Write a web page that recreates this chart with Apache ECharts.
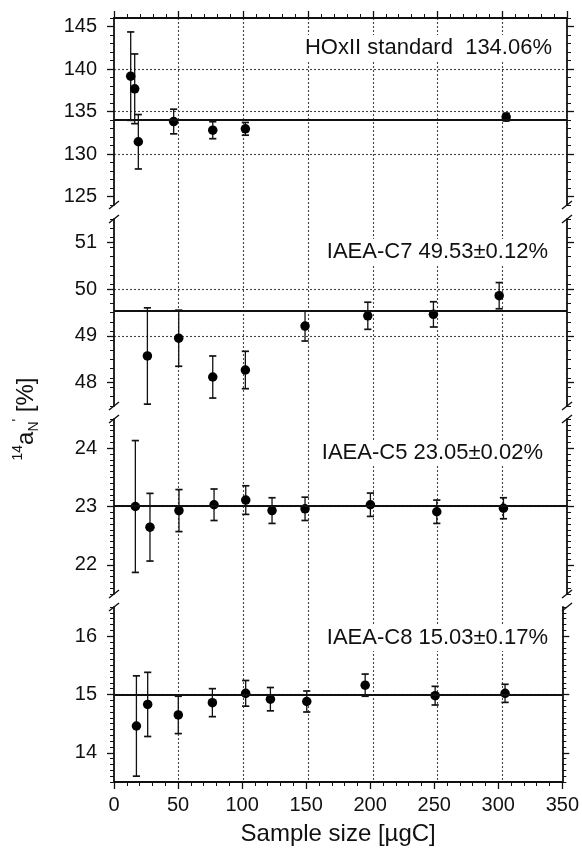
<!DOCTYPE html>
<html><head><meta charset="utf-8">
<script src="https://cdn.jsdelivr.net/npm/echarts@6/dist/echarts.min.js"></script>
<style>html,body{margin:0;padding:0;background:#fff}#c{width:582px;height:848px}</style>
</head><body><div id="c"></div>
<script>
// ---------- data ----------
const xTickValues = [0, 50, 100, 150, 200, 250, 300, 350];

const hoxX   = [12.9, 16.0, 18.8, 46.1, 76.3, 101.5, 303.0];
const hoxY   = [139.16, 137.67, 131.44, 133.82, 132.80, 132.96, 134.34];
const hoxErr = [5.2, 4.1, 3.2, 1.45, 1.0, 0.75, 0.45];
const hoxRef = 134.06;
const hoxTicks = [125, 130, 135, 140, 145];
const hoxLabel = 'HOxII standard  134.06%';

const c7X   = [25.8, 50.0, 76.3, 101.5, 147.6, 196.1, 246.8, 297.6];
const c7Y   = [48.57, 48.95, 48.12, 48.27, 49.21, 49.43, 49.46, 49.86];
const c7Err = [1.03, 0.60, 0.45, 0.40, 0.32, 0.29, 0.27, 0.28];
const c7Ref = 49.53;
const c7Ticks = [48, 49, 50, 51];
const c7Label = 'IAEA-C7 49.53\u00B10.12%';

const c5X   = [16.5, 27.8, 50.2, 77.3, 101.8, 122.1, 147.6, 198.1, 249.4, 300.9];
const c5Y   = [23.00, 22.645, 22.93, 23.03, 23.11, 22.93, 22.96, 23.03, 22.91, 22.97];
const c5Err = [1.13, 0.58, 0.36, 0.27, 0.245, 0.22, 0.20, 0.20, 0.20, 0.18];
const c5Ref = 23.01;
const c5Ticks = [22, 23, 24];
const c5Label = 'IAEA-C5 23.05\u00B10.02%';

const c8X   = [17.5, 26.3, 50.2, 76.8, 102.8, 122.1, 150.5, 196.1, 250.7, 305.3];
const c8Y   = [14.46, 14.83, 14.65, 14.86, 15.02, 14.92, 14.88, 15.16, 14.98, 15.02];
const c8Err = [0.86, 0.55, 0.32, 0.24, 0.22, 0.20, 0.18, 0.19, 0.16, 0.155];
const c8Ref = 15.0;
const c8Ticks = [14, 15, 16];
const c8Label = 'IAEA-C8 15.03\u00B10.17%';

const xName = 'Sample size [\u00B5gC]';

// ---------- layout ----------
const FONT = '"Liberation Sans", Arial, Helvetica, sans-serif';
const LEFT = 114, RIGHT = 15, W = 582 - LEFT - RIGHT;
const panels = [
  {top: 18,  h: 187, min: 124,  max: 146,  minor: 1,   ticks: hoxTicks, xs: hoxX, ys: hoxY, es: hoxErr, ref: hoxRef, label: hoxLabel, ly: 48,  lx: 555},
  {top: 219, h: 187, min: 47.5, max: 51.5, minor: 0.2, ticks: c7Ticks,  xs: c7X,  ys: c7Y,  es: c7Err,  ref: c7Ref,  label: c7Label,  ly: 252, lx: 551},
  {top: 419, h: 175, min: 21.5, max: 24.5, minor: 0.1, ticks: c5Ticks,  xs: c5X,  ys: c5Y,  es: c5Err,  ref: c5Ref,  label: c5Label,  ly: 453, lx: 546},
  {top: 607, h: 175, min: 13.5, max: 16.5, minor: 0.1, ticks: c8Ticks,  xs: c8X,  ys: c8Y,  es: c8Err,  ref: c8Ref,  label: c8Label,  ly: 638, lx: 551}
];

const BLACK = '#111';
const GRIDC = '#444';
const grids = [], xAxes = [], yAxes = [], series = [], graphics = [];

panels.forEach((p, gi) => {
  grids.push({left: LEFT, width: W, top: p.top, height: p.h, containLabel: false});
  const isTop = gi === 0, isBottom = gi === panels.length - 1;
  const showX = isTop || isBottom;
  xAxes.push({
    gridIndex: gi, type: 'value', min: 0, max: 350, interval: 50,
    position: isTop ? 'top' : 'bottom', show: showX,
    axisLine: {show: true, onZero: false, lineStyle: {color: BLACK, width: 1.8}},
    axisTick: {show: true, length: 7, lineStyle: {color: BLACK, width: 1.3}},
    minorTick: {show: true, splitNumber: 5, length: 4, lineStyle: {color: BLACK, width: 1}},
    axisLabel: {show: isBottom, fontSize: 20, color: BLACK, fontFamily: FONT, margin: 13},
    splitLine: {show: false},
    name: isBottom ? xName : '', nameLocation: 'middle', nameGap: 40,
    nameTextStyle: {fontSize: 24, color: BLACK, fontFamily: FONT}
  });
  const minors = [];
  const n = Math.round((p.max - p.min) / p.minor);
  for (let k = 0; k <= n; k++) minors.push(+(p.min + k * p.minor).toFixed(4));
  const base = {gridIndex: gi, type: 'value', min: p.min, max: p.max};
  const mainIdx = yAxes.length;
  yAxes.push(Object.assign({}, base, {
    position: 'left',
    axisLine: {show: true, onZero: false, lineStyle: {color: BLACK, width: 1.8}},
    axisTick: {show: true, length: 7, customValues: p.ticks, lineStyle: {color: BLACK, width: 1.3}},
    axisLabel: {show: true, customValues: p.ticks, fontSize: 20, color: BLACK, fontFamily: FONT, margin: 17},
    splitLine: {show: true, showMinLine: false, showMaxLine: false, lineStyle: {color: GRIDC, type: [2, 2], width: 1.1}}
  }));
  yAxes.push(Object.assign({}, base, {
    position: 'left', axisLine: {show: false},
    axisTick: {show: true, length: 4, customValues: minors, lineStyle: {color: BLACK, width: 1}},
    axisLabel: {show: false}, splitLine: {show: false}
  }));
  yAxes.push(Object.assign({}, base, {
    position: 'right',
    axisLine: {show: true, onZero: false, lineStyle: {color: BLACK, width: 1.8}},
    axisTick: {show: true, length: 7, customValues: p.ticks, lineStyle: {color: BLACK, width: 1.3}},
    axisLabel: {show: false}, splitLine: {show: false}
  }));
  yAxes.push(Object.assign({}, base, {
    position: 'right', axisLine: {show: false},
    axisTick: {show: true, length: 4, customValues: minors, lineStyle: {color: BLACK, width: 1}},
    axisLabel: {show: false}, splitLine: {show: false}
  }));

  const errData = p.xs.map((x, i) => [x, p.ys[i], p.es[i]]);
  series.push({
    type: 'custom', xAxisIndex: gi, yAxisIndex: mainIdx, z: 3, silent: true,
    encode: {x: 0, y: 1},
    data: errData,
    renderItem: function (params, api) {
      const x = api.value(0), y = api.value(1), e = api.value(2);
      const t = api.coord([x, y + e]), b = api.coord([x, y - e]);
      const w = 3.6;
      const st = {stroke: BLACK, lineWidth: 1.3};
      const cap = {stroke: BLACK, lineWidth: 1.7};
      return {type: 'group', children: [
        {type: 'line', shape: {x1: t[0], y1: t[1], x2: b[0], y2: b[1]}, style: st},
        {type: 'line', shape: {x1: t[0] - w, y1: t[1], x2: t[0] + w, y2: t[1]}, style: cap},
        {type: 'line', shape: {x1: b[0] - w, y1: b[1], x2: b[0] + w, y2: b[1]}, style: cap}
      ]};
    }
  });
  series.push({
    type: 'scatter', xAxisIndex: gi, yAxisIndex: mainIdx, z: 4,
    symbol: 'circle', symbolSize: 9.5,
    itemStyle: {color: '#000', borderWidth: 0, opacity: 1},
    data: p.xs.map((x, i) => [x, p.ys[i]]),
    markLine: {
      silent: true, symbol: 'none', label: {show: false}, animation: false,
      lineStyle: {color: BLACK, width: 2, type: 'solid'},
      data: [{yAxis: p.ref}]
    }
  });
  graphics.push({
    type: 'text', x: p.lx, y: p.ly, z: 50,
    style: {text: p.label, fontSize: 22, fontFamily: FONT, fill: BLACK,
      align: 'right', verticalAlign: 'middle', backgroundColor: '#fff', padding: [2, 3, 2, 3]}
  });
});

// full-height grid carrying the vertical dotted grid lines through the breaks
const gi4 = grids.length;
grids.push({left: LEFT, width: W, top: 18, height: 764});
xAxes.push({gridIndex: gi4, type: 'value', min: 0, max: 350, interval: 50, position: 'bottom',
  axisLine: {show: false}, axisTick: {show: false}, axisLabel: {show: false},
  splitLine: {show: true, showMinLine: false, showMaxLine: false, lineStyle: {color: GRIDC, type: [2, 2], width: 1.1}}});
yAxes.push({gridIndex: gi4, type: 'value', min: 0, max: 1, show: false});

// axis break marks
function brk(x, y) {
  return {type: 'line', z: 60, shape: {x1: x - 5, y1: y + 4, x2: x + 5, y2: y - 4},
    style: {stroke: BLACK, lineWidth: 1.5}};
}
for (let i = 0; i < panels.length - 1; i++) {
  const yb = panels[i].top + panels[i].h, yt = panels[i + 1].top;
  [LEFT, LEFT + W].forEach(x => { graphics.push(brk(x, yb)); graphics.push(brk(x, yt)); });
}

// y axis title
graphics.push({
  type: 'text', x: 26, y: 419, rotation: Math.PI / 2, z: 50,
  style: {
    text: '{sup|14}{m|a}{sub|N}{sup|\'}{m| [%]}',
    align: 'center', verticalAlign: 'middle', fill: BLACK, fontFamily: FONT,
    rich: {
      m: {fontSize: 24, lineHeight: 30, verticalAlign: 'middle', fontFamily: FONT, fill: BLACK},
      sup: {fontSize: 14, lineHeight: 14, verticalAlign: 'top', fontFamily: FONT, fill: BLACK},
      sub: {fontSize: 14, lineHeight: 14, verticalAlign: 'bottom', fontFamily: FONT, fill: BLACK}
    }
  }
});

const chart = echarts.init(document.getElementById('c'), null, {renderer: 'canvas'});
chart.setOption({
  animation: false,
  backgroundColor: '#fff',
  textStyle: {fontFamily: FONT},
  grid: grids, xAxis: xAxes, yAxis: yAxes, series: series, graphic: graphics
});
</script>
</body></html>
